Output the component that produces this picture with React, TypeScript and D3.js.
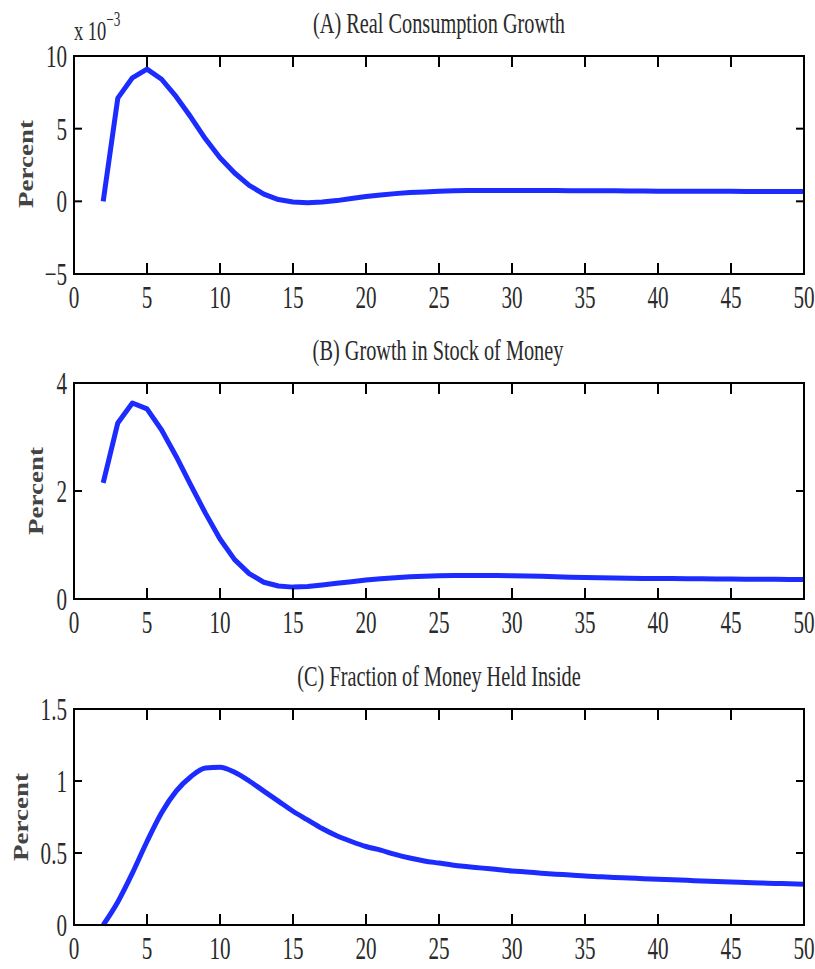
import React from "react";
import * as d3 from "d3";

const periods: number[] = d3.range(2, 51);

// (A) Real consumption growth, in units of 1e-3 percent
const consumption: number[] = [
  0.0, 7.1, 8.5, 9.1, 8.4, 7.2, 5.8, 4.3, 3.0, 1.95, 1.1, 0.5, 0.12, -0.05, -0.1,
  -0.05, 0.05, 0.2, 0.33, 0.44, 0.53, 0.6, 0.65, 0.7, 0.72, 0.74, 0.75, 0.75, 0.75,
  0.75, 0.74, 0.74, 0.73, 0.73, 0.72, 0.72, 0.71, 0.71, 0.7, 0.7, 0.7, 0.69, 0.69,
  0.69, 0.68, 0.68, 0.68, 0.67, 0.67,
];

// (B) Growth in stock of money
const moneyGrowth: number[] = [
  2.15, 3.26, 3.63, 3.52, 3.13, 2.64, 2.11, 1.59, 1.11, 0.73, 0.47, 0.31, 0.24, 0.22,
  0.23, 0.26, 0.29, 0.32, 0.35, 0.375, 0.395, 0.41, 0.42, 0.43, 0.433, 0.435, 0.435,
  0.433, 0.43, 0.425, 0.42, 0.41, 0.405, 0.4, 0.395, 0.39, 0.385, 0.38, 0.38, 0.378,
  0.376, 0.374, 0.372, 0.37, 0.368, 0.366, 0.364, 0.362, 0.36,
];

// (C) Fraction of money held inside
const insideFraction: number[] = [
  0.0, 0.16, 0.36, 0.58, 0.78, 0.93, 1.03, 1.09, 1.095, 1.06, 1.0, 0.93, 0.86, 0.79,
  0.73, 0.67, 0.62, 0.58, 0.545, 0.52, 0.49, 0.465, 0.445, 0.43, 0.415, 0.405, 0.395,
  0.385, 0.375, 0.368, 0.36, 0.353, 0.347, 0.34, 0.335, 0.33, 0.326, 0.322, 0.318,
  0.314, 0.31, 0.306, 0.302, 0.298, 0.295, 0.292, 0.289, 0.286, 0.283,
];

const xTicks: number[] = d3.range(0, 51, 5);
const titles: string[] = [
  "(A) Real Consumption Growth",
  "(B) Growth in Stock of Money",
  "(C) Fraction of Money Held Inside",
];
const yTicksA: number[] = [-5, 0, 5, 10];
const yTicksB: number[] = [0, 2, 4];
const yTicksC: number[] = [0, 0.5, 1, 1.5];
const yLabel = "Percent";

const FONT = "'Liberation Serif', 'DejaVu Serif', serif";
const TEXT = "#2a2a2a";
const BLUE = "rgb(28,44,255)";
const SX = 0.66;

const fmtTick = (v: number) => (v < 0 ? "\u2212" + Math.abs(v) : String(v));

type PanelSpec = {
  title: string;
  data: number[];
  domain: [number, number];
  ticks: number[];
  top: number;
  bottom: number;
  titleX: number;
  titleY: number;
  labelX: number;
  labelY: number;
  smooth: boolean;
};

const LEFT = 74;
const RIGHT = 804;

const panels: PanelSpec[] = [
  { title: titles[0], data: consumption, domain: [-5, 10], ticks: yTicksA, top: 56, bottom: 274, titleX: 439, titleY: 33, labelX: 33, labelY: 164, smooth: false },
  { title: titles[1], data: moneyGrowth, domain: [0, 4], ticks: yTicksB, top: 383, bottom: 599, titleX: 438, titleY: 360, labelX: 43, labelY: 491, smooth: false },
  { title: titles[2], data: insideFraction, domain: [0, 1.5], ticks: yTicksC, top: 709, bottom: 925, titleX: 439, titleY: 686, labelX: 28, labelY: 817, smooth: true },
];

function Panel({ p, exponent }: { p: PanelSpec; exponent?: boolean }) {
  const x = d3.scaleLinear().domain([0, 50]).range([LEFT, RIGHT]);
  const y = d3.scaleLinear().domain(p.domain).range([p.bottom, p.top]);
  const line = d3
    .line<number>()
    .x((_, i) => x(periods[i]))
    .y((d) => y(d))
    .curve(p.smooth ? d3.curveMonotoneX : d3.curveLinear);
  const xTickLen = 11;
  const yTickLen = 8;
  return (
    <g>
      <text
        transform={`translate(${p.titleX},${p.titleY}) scale(0.7,1)`}
        textAnchor="middle"
        fontFamily={FONT}
        fontSize={29}
        fill={TEXT}
      >
        {p.title}
      </text>
      <path d={line(p.data) || ""} fill="none" stroke={BLUE} strokeWidth={5} strokeLinejoin="round" strokeLinecap="butt" />
      <rect x={LEFT} y={p.top} width={RIGHT - LEFT} height={p.bottom - p.top} fill="none" stroke="#000" strokeWidth={2} />
      {xTicks.map((t) => (
        <g key={"x" + t}>
          {t > 0 && t < 50 && (
            <>
              <line x1={x(t)} x2={x(t)} y1={p.bottom} y2={p.bottom - xTickLen} stroke="#000" strokeWidth={2} />
              <line x1={x(t)} x2={x(t)} y1={p.top} y2={p.top + xTickLen} stroke="#000" strokeWidth={2} />
            </>
          )}
          <text
            transform={`translate(${x(t)},${p.bottom + 34}) scale(${SX},1)`}
            textAnchor="middle"
            fontFamily={FONT}
            fontSize={32}
            fill={TEXT}
          >
            {fmtTick(t)}
          </text>
        </g>
      ))}
      {p.ticks.map((t) => (
        <g key={"y" + t}>
          {y(t) > p.top + 1 && y(t) < p.bottom - 1 && (
            <>
              <line x1={LEFT} x2={LEFT + yTickLen} y1={y(t)} y2={y(t)} stroke="#000" strokeWidth={2} />
              <line x1={RIGHT} x2={RIGHT - yTickLen} y1={y(t)} y2={y(t)} stroke="#000" strokeWidth={2} />
            </>
          )}
          <text
            transform={`translate(${LEFT - 7},${y(t) + 11}) scale(${SX},1)`}
            textAnchor="end"
            fontFamily={FONT}
            fontSize={32}
            fill={TEXT}
          >
            {fmtTick(t)}
          </text>
        </g>
      ))}
      <text
        transform={`translate(${p.labelX},${p.labelY}) scale(0.8,1) rotate(-90)`}
        textAnchor="middle"
        fontFamily={FONT}
        fontSize={27}
        fontWeight="bold"
        fill="#444"
      >
        {yLabel}
      </text>
      {exponent && (
        <text
          transform={`translate(${LEFT},40) scale(${SX},1)`}
          fontFamily={FONT}
          fontSize={28}
          fill={TEXT}
        >
          x 10
          <tspan fontSize={20} dy={-14}>{"\u22123"}</tspan>
        </text>
      )}
    </g>
  );
}

export default function App() {
  return (
    <svg
      width={815}
      height={969}
      style={{ position: "absolute", left: 0, top: 0, background: "#fff" }}
    >
      <rect width={815} height={969} fill="#fff" />
      {panels.map((p, i) => (
        <Panel key={i} p={p} exponent={i === 0} />
      ))}
    </svg>
  );
}
